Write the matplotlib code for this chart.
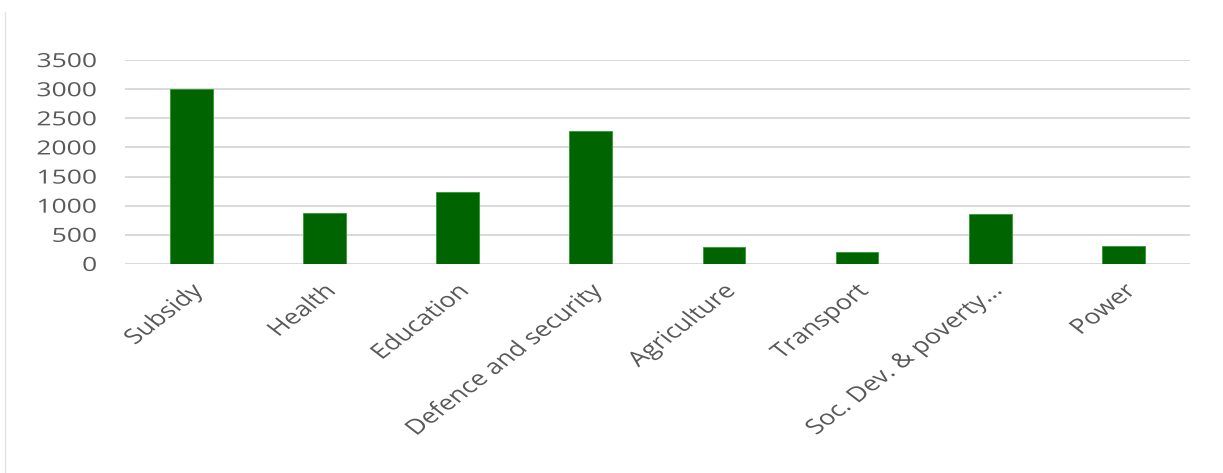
import matplotlib.pyplot as plt
from matplotlib.lines import Line2D
from matplotlib.patheffects import AbstractPathEffect
from matplotlib.transforms import Affine2D

categories = ['Subsidy', 'Health', 'Education', 'Defence and security',
              'Agriculture', 'Transport', 'Soc. Dev. & poverty...', 'Power']
values = [3000, 875, 1230, 2290, 297, 211, 857, 309]

plt.rcParams['font.family'] = ['Open Sans', 'DejaVu Sans']


class HStretch(AbstractPathEffect):
    # the source picture is stretched sideways, so stretch the text the same way
    def __init__(self, sx, dx=0):
        super().__init__()
        self.sx = sx
        self.dx = dx

    def draw_path(self, renderer, gc, tpath, affine, rgbFace=None):
        cx = tpath.transformed(affine).get_extents().x1
        aff = affine + Affine2D().translate(-cx, 0).scale(self.sx, 1).translate(cx + self.dx, 0)
        renderer.draw_path(gc, tpath, aff, rgbFace)


fig = plt.figure(figsize=(12.23, 4.73), dpi=100)
ax = fig.add_axes([0.102, 0.442, 0.871, 0.431])

x = range(len(categories))
ax.bar(x, values, width=0.32, color='#006400', edgecolor='#2e9a2e', linewidth=0.6, zorder=3)

ax.set_ylim(0, 3500)
ax.set_xlim(-0.5, len(categories) - 0.5)
ax.set_yticks(range(0, 3501, 500))
ax.yaxis.grid(True, color='#d9d9d9', linewidth=1.4, zorder=0)
ax.set_axisbelow(True)
for s in ax.spines.values():
    s.set_visible(False)
ax.tick_params(axis='both', length=0, colors='#595959', labelsize=14)
ax.tick_params(axis='y', pad=20)
ax.set_xticks(list(x))
ax.set_xticklabels(categories, rotation=45, ha='right', rotation_mode='anchor', fontsize=15)
ax.tick_params(axis='x', pad=12)

for lab in ax.get_yticklabels():
    lab.set_path_effects([HStretch(1.36)])
for lab in ax.get_xticklabels():
    lab.set_path_effects([HStretch(1.3, dx=1)])

# chart border (left edge visible)
fig.add_artist(Line2D([0.004, 0.004], [0.0, 0.975], color='#e3e3e3', linewidth=1))

fig.savefig('out.png', dpi=100)
